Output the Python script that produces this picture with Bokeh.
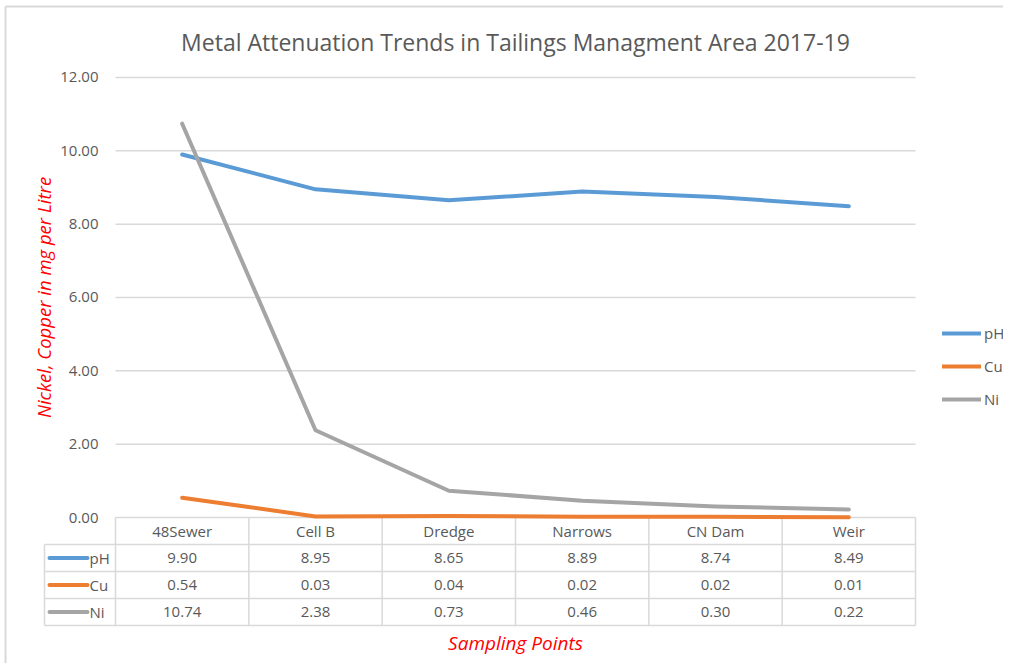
import math
from bokeh.plotting import figure
from bokeh.models import Range1d, Legend, LegendItem
from bokeh.embed import file_html
from bokeh.resources import INLINE
from bokeh.core.properties import value

# ---------------- data ----------------
categories = ["48Sewer", "Cell B", "Dredge", "Narrows", "CN Dam", "Weir"]
ph = [9.90, 8.95, 8.65, 8.89, 8.74, 8.49]
cu = [0.54, 0.03, 0.04, 0.02, 0.02, 0.01]
ni = [10.74, 2.38, 0.73, 0.46, 0.30, 0.22]
series_names = ["pH", "Cu", "Ni"]
series_values = [ph, cu, ni]
series_colors = ["#5b9bd5", "#ed7d31", "#a5a5a5"]
y_ticks = [0, 2, 4, 6, 8, 10, 12]
title_text = "Metal Attenuation Trends in Tailings Managment Area 2017-19"
y_label = "Nickel, Copper in mg per Litre"
x_label = "Sampling Points"

FONT = "Open Sans"
GRAY_TXT = "#595959"
GRID = "#d9d9d9"

# ---------------- geometry (screen layout) ----------------
W, H = 1003, 663
PX_X = 133.333             # pixels per category
PX_Y = 36.667              # pixels per y unit
X0_PIX = 115               # left edge of plot area on canvas
Y0_PIX = 517               # y = 0 line on canvas (from top)

def xs(px):   # canvas pixel -> x data
    return (px - X0_PIX) / PX_X - 0.5

def ys(py):   # canvas pixel (from top) -> y data
    return (Y0_PIX - py) / PX_Y

ROW = 27 / PX_Y            # table row height in y units

p = figure(width=W, height=H,
           x_range=Range1d(xs(0), xs(W)), y_range=Range1d(ys(H), ys(0)),
           x_axis_location=None, y_axis_location=None,
           output_backend="svg", toolbar_location=None,
           min_border_left=0, min_border_right=0, min_border_top=0, min_border_bottom=0)
p.outline_line_color = None
p.grid.visible = False

n = len(categories)
idx = list(range(n))
txt = dict(text_font=value(FONT), text_color=GRAY_TXT, text_baseline="middle")

# chart-area border (top and left edges visible)
p.segment(x0=[xs(5), xs(5)], y0=[ys(6), ys(6)], x1=[xs(W), xs(5)], y1=[ys(6), ys(H)],
          line_color=GRID, line_width=2)

# gridlines (y axis)
p.segment(x0=[-0.5] * len(y_ticks), y0=y_ticks, x1=[n - 0.5] * len(y_ticks), y1=y_ticks,
          line_color=GRID, line_width=1.5)
# y tick labels
p.text(x=[xs(98)] * len(y_ticks), y=y_ticks, text=["%.2f" % t for t in y_ticks],
       text_align="right", text_font_size="15px", **txt)

# y axis title
p.text(x=[xs(43)], y=[ys(297)], text=[y_label], angle=math.pi / 2,
       text_align="center", text_baseline="middle", text_font=value(FONT),
       text_font_size="18.5px", text_font_style="italic", text_color="#ff0000")

# chart title
p.text(x=[(n - 1) / 2], y=[ys(41)], text=[title_text], text_align="center",
       text_font_size="23px", **txt)

# ---------------- data table ----------------
left_edge = xs(44)
row_y = [-k * ROW for k in range(5)]   # row boundaries
p.segment(x0=[left_edge] * 4, y0=row_y[1:], x1=[n - 0.5] * 4, y1=row_y[1:],
          line_color=GRID, line_width=1.5)
vx = [i - 0.5 for i in range(n + 1)]
p.segment(x0=vx, y0=[0] * len(vx), x1=vx, y1=[row_y[4]] * len(vx),
          line_color=GRID, line_width=1.5)
p.segment(x0=[left_edge], y0=[row_y[1]], x1=[left_edge], y1=[row_y[4]],
          line_color=GRID, line_width=1.5)

p.text(x=idx, y=[-0.5 * ROW] * n, text=categories, text_align="center",
       text_font_size="15px", **txt)

for r, (name, vals, col) in enumerate(zip(series_names, series_values, series_colors)):
    yy = -(r + 1.5) * ROW
    p.text(x=idx, y=[yy] * n, text=["%.2f" % v for v in vals], text_align="center",
           text_font_size="15px", **txt)
    p.segment(x0=[xs(49)], y0=[yy], x1=[xs(87)], y1=[yy], line_color=col,
              line_width=4, line_cap="round")
    p.text(x=[xs(89)], y=[yy], text=[name], text_align="left",
           text_font_size="15px", **txt)

p.text(x=[(n - 1) / 2], y=[ys(642)], text=[x_label], text_align="center",
       text_baseline="middle", text_font=value(FONT), text_font_size="19px",
       text_font_style="italic", text_color="#ff0000")

# ---------------- series lines ----------------
renderers = []
for vals, col in zip(series_values, series_colors):
    r = p.line(x=idx, y=vals, line_color=col, line_width=4,
               line_join="round", line_cap="round")
    renderers.append(r)

legend = Legend(items=[LegendItem(label=nm, renderers=[r]) for nm, r in zip(series_names, renderers)],
                location=(942, H - 409), orientation="vertical",
                glyph_width=39, glyph_height=20, label_height=20,
                spacing=13, padding=0, margin=0, label_standoff=3,
                border_line_color=None, background_fill_alpha=0,
                label_text_font=FONT, label_text_font_size="15px",
                label_text_color=GRAY_TXT)
p.add_layout(legend)

open("out.html", "w").write(file_html(p, INLINE))
